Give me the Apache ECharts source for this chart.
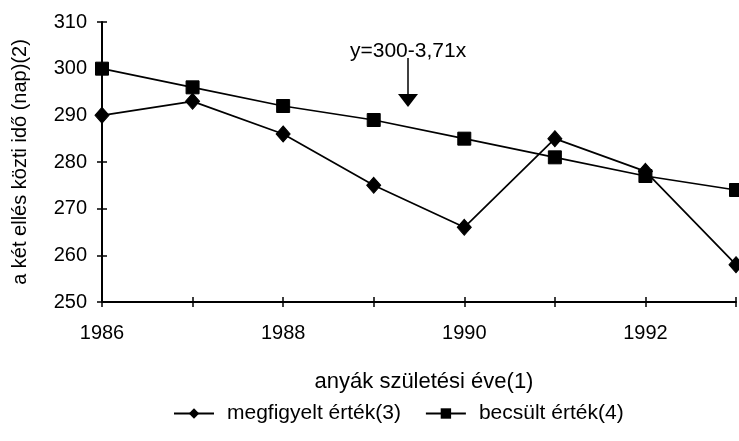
<!DOCTYPE html>
<html>
<head>
<meta charset="utf-8">
<script src="https://cdn.jsdelivr.net/npm/echarts@6/dist/echarts.min.js"></script>
<style>html,body{margin:0;padding:0;background:#fff}#c{width:739px;height:441px}</style>
</head>
<body>
<div id="c"></div>
<script>
const years = [1986, 1987, 1988, 1989, 1990, 1991, 1992, 1993];
const observed = [290, 293, 286, 275, 266, 285, 278, 258];
const estimated = [300, 296, 292, 289, 285, 281, 277, 274];
const yTicks = [250, 260, 270, 280, 290, 300, 310];
const xLabelYears = [1986, 1988, 1990, 1992];
const seriesNames = ['megfigyelt érték(3)', 'becsült érték(4)'];
const annotationText = 'y=300-3,71x';

const FONT = "'Liberation Sans', Arial, sans-serif";
const chart = echarts.init(document.getElementById('c'), null, {renderer: 'canvas'});

const baseY = {
  type: 'value', min: yTicks[0], max: yTicks[yTicks.length - 1], interval: 10,
  splitLine: {show: false}
};
const baseX = {
  type: 'value', min: years[0], max: years[years.length - 1], interval: 1,
  splitLine: {show: false}
};

chart.setOption({
  animation: false,
  backgroundColor: '#fff',
  textStyle: {fontFamily: FONT, color: '#000'},
  grid: {left: 102, top: 22, width: 641, height: 280, containLabel: false},
  xAxis: [
    Object.assign({}, baseX, {
      axisLine: {show: true, lineStyle: {color: '#000', width: 2}},
      axisTick: {show: true, length: 5, lineStyle: {color: '#000', width: 1.5}},
      axisLabel: {
        margin: 21, fontSize: 20, color: '#000', fontFamily: FONT,
        formatter: v => xLabelYears.indexOf(v) >= 0 ? String(v) : ''
      },
      name: 'anyák születési éve(1)', nameLocation: 'middle', nameGap: 69,
      nameTextStyle: {fontSize: 22, color: '#000', fontFamily: FONT, padding: [0, 0, 0, 10]}
    }),
    Object.assign({}, baseX, {
      position: 'bottom',
      axisLine: {show: false},
      axisTick: {show: true, inside: true, length: 5, lineStyle: {color: '#000', width: 1.5}},
      axisLabel: {show: false}
    })
  ],
  yAxis: [
    Object.assign({}, baseY, {
      axisLine: {show: true, lineStyle: {color: '#000', width: 2}},
      axisTick: {show: true, length: 5, lineStyle: {color: '#000', width: 1.5}},
      axisLabel: {margin: 15, fontSize: 20, color: '#000', fontFamily: FONT},
      name: 'a két ellés közti idő (nap)(2)', nameLocation: 'middle', nameGap: 72,
      nameTextStyle: {fontSize: 20, color: '#000', fontFamily: FONT}
    }),
    Object.assign({}, baseY, {
      position: 'left',
      axisLine: {show: false},
      axisTick: {show: true, inside: true, length: 5, lineStyle: {color: '#000', width: 1.5}},
      axisLabel: {show: false}
    })
  ],
  legend: {
    left: 168, top: 398,
    itemWidth: 40, itemHeight: 13, itemGap: 24,
    textStyle: {fontSize: 21, color: '#000', fontFamily: FONT, padding: [0, 0, 0, 8]},
    data: seriesNames
  },
  series: [
    {
      name: seriesNames[0], type: 'line',
      data: years.map((y, i) => [y, observed[i]]),
      symbol: 'diamond', symbolSize: [14, 16],
      lineStyle: {color: '#000', width: 1.7},
      itemStyle: {color: '#000', borderColor: '#000'},
      clip: false
    },
    {
      name: seriesNames[1], type: 'line',
      data: years.map((y, i) => [y, estimated[i]]),
      symbol: 'rect', symbolSize: 13,
      lineStyle: {color: '#000', width: 1.7},
      itemStyle: {color: '#000', borderColor: '#000'},
      clip: false
    }
  ],
  graphic: [
    {type: 'text', left: 350, top: 41, style: {text: annotationText, font: '21px ' + FONT, fill: '#000'}},
    {type: 'line', shape: {x1: 408, y1: 58, x2: 408, y2: 96}, style: {stroke: '#000', lineWidth: 1.5}},
    {type: 'polygon', shape: {points: [[398, 94], [418, 94], [408, 107]]}, style: {fill: '#000'}}
  ]
});
</script>
</body>
</html>
